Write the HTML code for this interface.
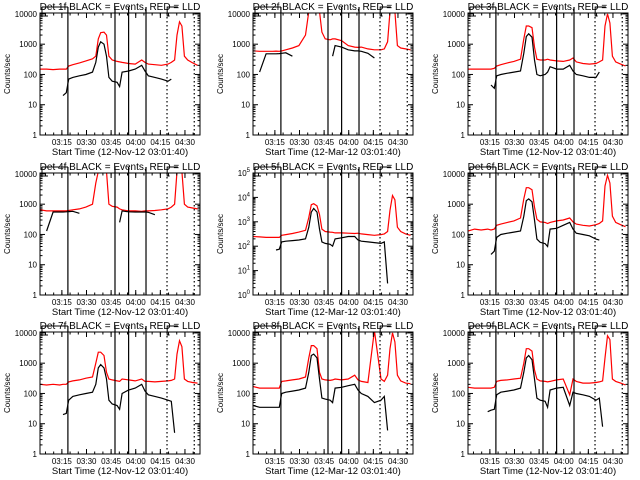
<!DOCTYPE html>
<html><head><meta charset="utf-8"><style>
html,body{margin:0;padding:0;background:#fff;}
svg{display:block;font-family:"Liberation Sans",sans-serif;}
</style></head><body>
<svg id="c" width="640" height="480" viewBox="0 0 640 480" xmlns="http://www.w3.org/2000/svg"></svg>
<script>
// shared time grid, minutes after 03:01:40
const times = [0,4,8,12,14,16,17.5,20,24,28,32,34,35.5,37,39,40.5,42,44,47,48.5,50,54,58,62,64,66,70,74,78,80,82,83.5,85,86.5,88,90,93,96];
const N = null;
const red1 = [150,150,145,150,150,150,190,210,240,280,330,400,1500,2400,2500,2000,400,300,270,260,250,230,220,300,250,220,210,200,220,250,300,2000,5500,4000,400,300,240,200];
const black1 = [N,N,N,N,20,25,70,80,90,100,120,250,800,1200,1000,400,80,60,55,40,120,130,150,200,130,90,80,70,60,70,N,N,N,N,N,N,N,N];
const red2 = [600,580,580,580,590,580,600,650,750,900,2000,12000,12000,12000,12000,12000,2500,1500,1400,1500,1500,1300,900,800,780,800,700,650,650,700,1200,12000,12000,12000,900,750,700,650];
const black2 = [N,120,480,480,480,490,500,520,400,N,N,N,N,N,N,N,N,N,N,400,900,800,650,600,600,580,500,350,N,N,N,N,N,N,N,N,N,N];
const red3 = [150,150,150,150,150,160,190,210,240,270,320,1500,4000,4000,3500,800,320,300,300,320,300,280,270,300,350,260,230,220,230,260,300,4000,10000,5000,400,260,220,190];
const black3 = [N,N,N,N,45,35,90,100,110,120,130,500,1800,2200,1700,300,100,90,100,120,180,150,150,200,130,100,90,80,80,120,N,N,N,N,N,N,N,N];
const red4 = [650,600,600,600,600,600,620,650,700,800,1000,5000,12000,12000,12000,12000,1000,850,800,700,650,600,600,580,600,600,620,650,700,800,1000,12000,12000,12000,1000,800,750,700];
const black4 = [N,130,550,550,550,560,570,580,500,N,N,N,N,N,N,N,N,N,N,250,600,560,550,550,550,540,450,N,N,N,N,N,N,N,N,N,N,N];
const red5 = [250,240,230,230,230,230,280,300,330,380,450,1500,5000,5500,4500,2000,500,400,380,370,350,350,340,330,340,320,300,280,300,320,400,3000,12000,8000,600,400,320,280];
const black5 = [N,N,N,N,70,75,150,160,170,180,200,600,2500,3500,2500,500,150,130,120,100,200,220,250,250,180,160,150,140,130,150,3,N,N,N,N,N,N,N];
const red6 = [130,150,140,150,140,150,200,220,250,280,350,1500,3500,3500,3000,800,320,260,250,230,250,280,300,350,260,220,200,190,210,230,280,4000,9000,5000,400,250,210,180];
const black6 = [N,N,N,N,22,28,80,100,110,120,130,400,1300,1500,1200,300,70,55,50,40,150,160,200,250,150,110,100,90,70,65,N,N,N,N,N,N,N,N];
const red7 = [200,190,200,190,200,200,240,260,280,320,350,1000,2300,2300,1800,500,300,280,260,250,300,280,260,300,250,250,240,250,260,270,300,2000,5500,3500,300,250,230,220];
const black7 = [N,N,N,N,20,22,60,80,90,100,110,200,700,900,700,300,60,45,40,30,100,130,150,200,120,90,80,70,60,55,5,N,N,N,N,N,N,N];
const red8 = [170,150,150,150,150,150,250,260,280,300,350,1500,3800,3800,3000,500,300,280,270,280,300,280,300,400,280,250,230,12000,300,250,400,3000,10000,5000,400,260,220,210];
const black8 = [40,35,35,35,35,35,100,110,120,130,150,500,1800,2000,1500,300,70,65,60,50,150,160,180,200,130,100,80,50,60,80,6,N,N,N,N,N,N,N];
const red9 = [160,150,150,150,150,160,250,270,280,300,320,1000,3000,3000,2500,600,300,260,250,240,250,280,300,90,300,250,220,220,230,240,260,1500,8000,6000,300,250,220,190];
const black9 = [N,N,N,25,28,30,90,110,120,130,150,500,1500,1800,1300,300,70,60,55,35,130,150,160,40,110,100,90,80,60,70,8,N,N,N,N,N,N,N];
const tickTimes = [13.333,28.333,43.333,58.333,73.333,88.333];
const tickLabels = ["03:15","03:30","03:45","04:00","04:15","04:30"];
const solidMarks = [17,45.7,54,64.6];
const dottedMarks = [77.4,94];

const reds=[red1,red2,red3,red4,red5,red6,red7,red8,red9];
const blacks=[black1,black2,black3,black4,black5,black6,black7,black8,black9];
const svg=document.getElementById('c');
const NS='http://www.w3.org/2000/svg';
function mk(tag,attrs,parent){const e=document.createElementNS(NS,tag);for(const k in attrs)e.setAttribute(k,attrs[k]);(parent||svg).appendChild(e);return e;}
const colX=[40,253,468], rowY=[13,173,332], W=160, H=122, TMAX=97.5;

for(let p=0;p<9;p++){
  const L=colX[p%3], T=rowY[Math.floor(p/3)];
  const dec5 = p===4;
  const ymaxL = dec5?5:4.03;
  const g=mk('g',{});
  
  
  const xs=t=>L+t/TMAX*W;
  const ys=v=>T+H-(Math.log10(v)/ymaxL)*H;
  const cp=mk('clipPath',{id:'cp'+p},g);
  mk('rect',{x:L,y:T,width:W,height:H},cp);
  // series
  function series(arr,color,name){
    let d='',pen=false;
    for(let i=0;i<times.length;i++){
      const v=arr[i];
      if(v===null){pen=false;continue;}
      d+=(pen?'L':'M')+xs(times[i]).toFixed(1)+' '+ys(v).toFixed(1)+' ';
      pen=true;
    }
    const path=mk('path',{d:d,fill:'none',stroke:color,'stroke-width':1.2,'clip-path':'url(#cp'+p+')'},g);
    
    
  }
  series(reds[p],'#ff0000','red-lld-series');
  series(blacks[p],'#000','black-events-series');
  // event lines
  solidMarks.forEach(t=>{const l=mk('line',{x1:xs(t),x2:xs(t),y1:T-6,y2:T+H,stroke:'#000','stroke-width':1.2},g);
    
    });
  dottedMarks.forEach(t=>{const l=mk('line',{x1:xs(t),x2:xs(t),y1:T,y2:T+H,stroke:'#000','stroke-width':1.2,'stroke-dasharray':'1.5,2.5'},g);
    
    });
  // brackets
  mk('path',{d:`M${L+2} ${T-6} V${T+3} H${L+8} M${L+2} ${T-6} H${L+28}`,fill:'none',stroke:'#000','stroke-width':1},g);
  mk('path',{d:`M${xs(79)} ${T+3} H${xs(77.5)} V${T-6} H${xs(84)}`,fill:'none',stroke:'#000','stroke-width':1},g);
  // frame
  const fr=mk('rect',{x:L,y:T,width:W,height:H,fill:'none',stroke:'#000','stroke-width':1},g);
  
  
  // x ticks
  tickTimes.forEach((t,i)=>{
    const x=xs(t);
    mk('line',{x1:x,x2:x,y1:T+H,y2:T+H-5,stroke:'#000'},g);
    mk('line',{x1:x,x2:x,y1:T,y2:T+5,stroke:'#000'},g);
    const tx=mk('text',{x:x,y:T+H+10,'font-size':8,'text-anchor':'middle'},g);
    tx.textContent=tickLabels[i];
    
    
  });
  for(let t=3.333;t<TMAX;t+=5){const x=xs(t);
    mk('line',{x1:x,x2:x,y1:T+H,y2:T+H-2.5,stroke:'#000'},g);
    mk('line',{x1:x,x2:x,y1:T,y2:T+2.5,stroke:'#000'},g);}
  // y ticks
  const nd=dec5?5:4;
  for(let d=0;d<=nd;d++){
    const y=ys(Math.pow(10,d));
    mk('line',{x1:L,x2:L+5,y1:y,y2:y,stroke:'#000'},g);
    mk('line',{x1:L+W,x2:L+W-5,y1:y,y2:y,stroke:'#000'},g);
    const tx=mk('text',{x:L-3,y:y+3,'font-size':8,'text-anchor':'end'},g);
    if(dec5){tx.textContent='10';const s=mk('tspan',{'font-size':6,dy:-4},tx);s.textContent=String(d);}
    else tx.textContent=String(Math.pow(10,d));
    
    
    if(d<nd)for(let m=2;m<10;m++){const ym=ys(m*Math.pow(10,d));
      mk('line',{x1:L,x2:L+2.5,y1:ym,y2:ym,stroke:'#000'},g);
      mk('line',{x1:L+W,x2:L+W-2.5,y1:ym,y2:ym,stroke:'#000'},g);}
  }
  const ttl=mk('text',{x:L+80,y:T-3,'font-size':10,'text-anchor':'middle'},g);
  ttl.textContent='Det '+(p+1)+'f BLACK = Events, RED = LLD';
  
  
  const xl=mk('text',{x:L+80,y:T+H+20,'font-size':9.5,'text-anchor':'middle'},g);
  xl.textContent='Start Time ('+(p%3===1?'12-Mar-12':'12-Nov-12')+' 03:01:40)';
  
  
  const yl=mk('text',{x:0,y:0,'font-size':8,'text-anchor':'middle',transform:`translate(${L-30},${T+H/2}) rotate(-90)`},g);
  yl.textContent='Counts/sec';
  
  
}
</script>
</body></html>
